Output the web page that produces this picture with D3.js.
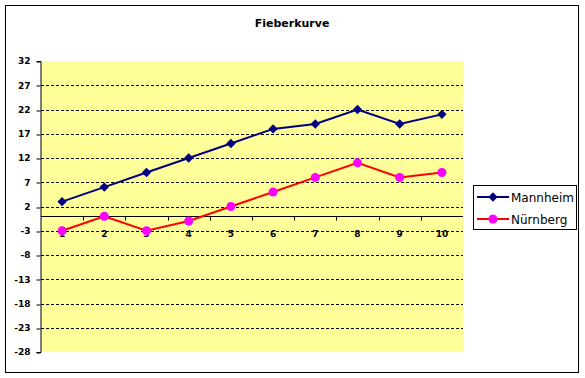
<!DOCTYPE html>
<html>
<head>
<meta charset="utf-8">
<script src="https://cdn.jsdelivr.net/npm/d3@7"></script>
<style>
  body { margin: 0; background: #fff; }
  svg { display: block; font-family: Tahoma, "DejaVu Sans", sans-serif; }
</style>
</head>
<body>
<svg id="chart" width="585" height="378"></svg>
<script>
// data
var days = [1, 2, 3, 4, 5, 6, 7, 8, 9, 10];
var mannheim = [3, 6, 9, 12, 15, 18, 19, 22, 19, 21];
var nuernberg = [-3, 0, -3, -1, 2, 5, 8, 11, 8, 9];
var yTicks = [32, 27, 22, 17, 12, 7, 2, -3, -8, -13, -18, -23, -28];
var seriesNames = ["Mannheim", "Nürnberg"];

const width = 585;
const height = 378;
const plot = {left: 41, right: 463, top: 61, bottom: 352};

var svg = d3.select("#chart");

// outer frame
svg.append("rect")
	.attr("x", 5.5).attr("y", 5.5)
	.attr("width", 573).attr("height", 367)
	.attr("fill", "#fff")
	.attr("stroke", "#000")
	.attr("stroke-width", 1);

// title
svg.append("text")
	.attr("x", 292).attr("y", 27)
	.attr("text-anchor", "middle")
	.attr("font-size", 11)
	.attr("font-weight", "bold")
	.attr("fill", "#000")
	.text("Fieberkurve");

// scales
var x = d3.scaleBand()
	.domain(days)
	.range([plot.left, plot.right]);

var y = d3.scaleLinear()
	.domain([-28, 32])
	.range([plot.bottom, plot.top]);

// plot area
svg.append("rect")
	.attr("x", plot.left).attr("y", plot.top)
	.attr("width", plot.right - plot.left)
	.attr("height", plot.bottom - plot.top)
	.attr("fill", "#ffff99");

// gridlines
svg.append("g")
	.selectAll("line")
	.data(yTicks.filter(d => d !== 32 && d !== -28))
	.enter()
	.append("line")
		.attr("x1", plot.left).attr("x2", plot.right)
		.attr("y1", d => Math.round(y(d)) + 0.5)
		.attr("y2", d => Math.round(y(d)) + 0.5)
		.attr("stroke", "#000")
		.attr("stroke-dasharray", "3,2");

// y axis
var yAxis = d3.axisLeft(y)
	.tickValues(yTicks)
	.tickFormat(d => String(d))
	.tickSize(4)
	.tickPadding(6);

svg.append("g")
	.attr("class", "y_axis")
	.attr("transform", "translate(" + (plot.left - 0.5) + ",0)")
	.call(yAxis)
	.call(g => g.selectAll(".tick line").attr("transform", d => "translate(0," + (Math.round(y(d)) + 0.5 - y(d)) + ")"))
	.call(g => g.selectAll("text").attr("font-size", 9).attr("font-weight", "bold").attr("fill", "#000").attr("font-family", "Tahoma, DejaVu Sans, sans-serif"));

// x axis at 0
var y0 = Math.round(y(0)) + 0.5;
svg.append("line")
	.attr("x1", plot.left).attr("x2", plot.right)
	.attr("y1", y0).attr("y2", y0)
	.attr("stroke", "#000");

var bounds = days.slice(1).map(d => x(d));
svg.append("g")
	.selectAll("line")
	.data(bounds)
	.enter()
	.append("line")
		.attr("x1", d => Math.round(d) + 0.5)
		.attr("x2", d => Math.round(d) + 0.5)
		.attr("y1", y0).attr("y2", y0 + 4)
		.attr("stroke", "#000");

svg.append("g")
	.selectAll("text")
	.data(days)
	.enter()
	.append("text")
		.attr("x", d => x(d) + x.bandwidth() / 2)
		.attr("y", y0 + 20)
		.attr("text-anchor", "middle")
		.attr("font-size", 9)
		.attr("font-weight", "bold")
		.attr("fill", "#000")
		.text(d => d);

// lines
var line = d3.line()
	.x((d, i) => x(days[i]) + x.bandwidth() / 2)
	.y(d => y(d));

var diamond = d3.symbol().type(d3.symbolSquare).size(44);

svg.append("path")
	.datum(nuernberg)
	.attr("fill", "none")
	.attr("stroke", "#ff0000")
	.attr("stroke-width", 2)
	.attr("d", line);

svg.append("g")
	.selectAll("circle")
	.data(nuernberg)
	.enter()
	.append("circle")
		.attr("cx", (d, i) => x(days[i]) + x.bandwidth() / 2)
		.attr("cy", d => y(d))
		.attr("r", 4.5)
		.attr("fill", "#ff00ff");

svg.append("path")
	.datum(mannheim)
	.attr("fill", "none")
	.attr("stroke", "#000080")
	.attr("stroke-width", 2)
	.attr("d", line);

svg.append("g")
	.selectAll("path")
	.data(mannheim)
	.enter()
	.append("path")
		.attr("d", diamond)
		.attr("transform", (d, i) => "translate(" + (x(days[i]) + x.bandwidth() / 2) + "," + y(d) + ") rotate(45)")
		.attr("fill", "#000080");

// legend
var legend = svg.append("g");
legend.append("rect")
	.attr("x", 473.5).attr("y", 185.5)
	.attr("width", 103).attr("height", 44)
	.attr("fill", "#fff")
	.attr("stroke", "#000");

var colors = ["#000080", "#ff0000"];
var markColors = ["#000080", "#ff00ff"];
seriesNames.forEach(function(name, i) {
	var ly = 197 + i * 22;
	legend.append("line")
		.attr("x1", 477).attr("x2", 509)
		.attr("y1", ly).attr("y2", ly)
		.attr("stroke", colors[i])
		.attr("stroke-width", 2);
	if (i === 0) {
		legend.append("path")
			.attr("d", diamond)
			.attr("transform", "translate(493," + ly + ") rotate(45)")
			.attr("fill", markColors[i]);
	} else {
		legend.append("circle")
			.attr("cx", 493).attr("cy", ly).attr("r", 4.5)
			.attr("fill", markColors[i]);
	}
	legend.append("text")
		.attr("x", 511).attr("y", ly + 4.5)
		.attr("font-size", 12)
		.attr("fill", "#000")
		.text(name);
});
</script>
</body>
</html>
